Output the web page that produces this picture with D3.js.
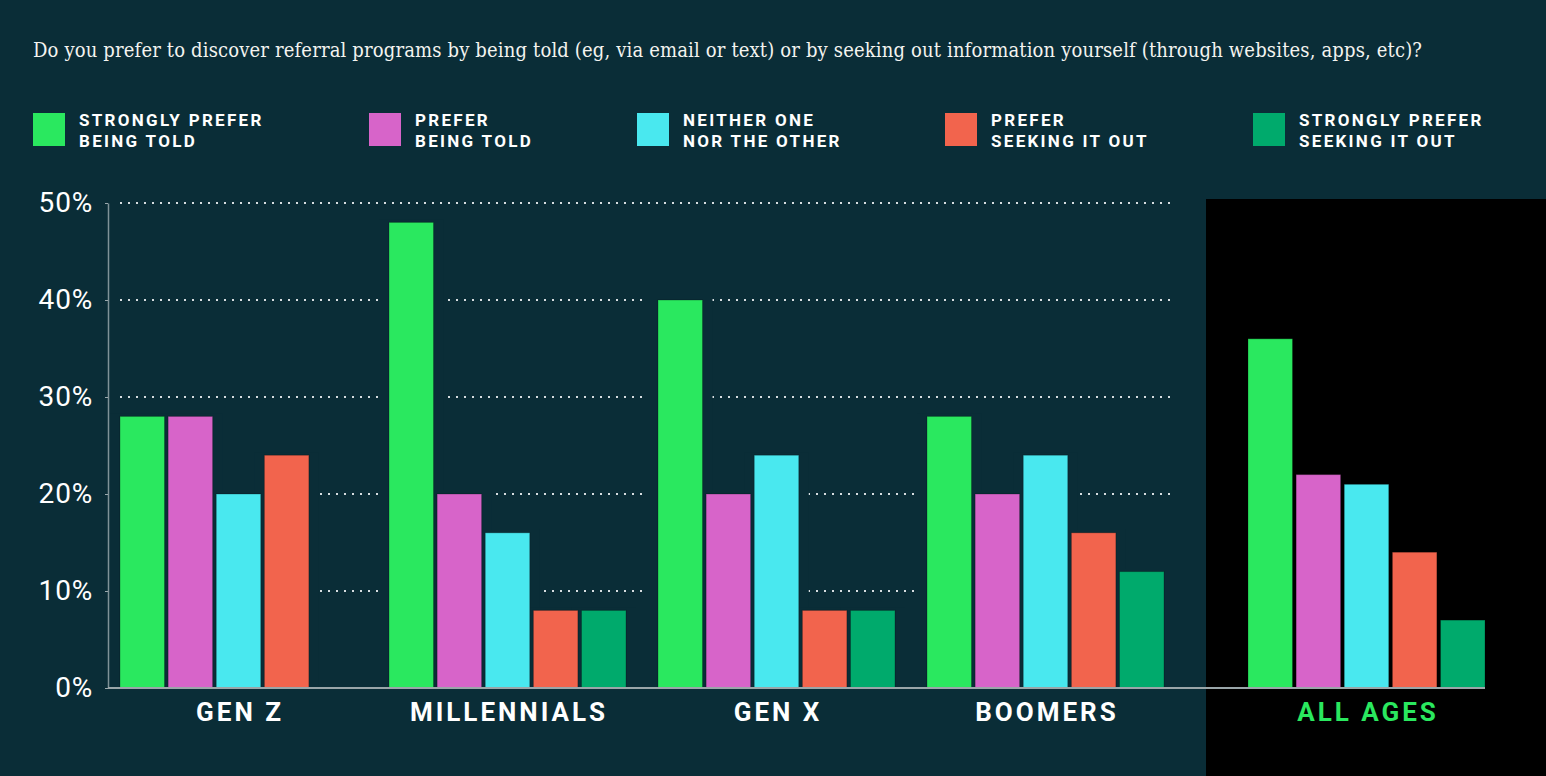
<!DOCTYPE html>
<html>
<head>
<meta charset="utf-8">
<script src="https://cdn.jsdelivr.net/npm/d3@7"></script>
<style>
  html, body { margin: 0; padding: 0; background: #0a2d37; }
  svg { display: block; }
</style>
</head>
<body>
<div id="chart"></div>
<script>
// data
const groups = ['GEN Z', 'MILLENNIALS', 'GEN X', 'BOOMERS', 'ALL AGES']
const seriesKeys = ['strongTold', 'told', 'neither', 'seek', 'strongSeek']
const legendLines = [
  ['STRONGLY PREFER', 'BEING TOLD'],
  ['PREFER', 'BEING TOLD'],
  ['NEITHER ONE', 'NOR THE OTHER'],
  ['PREFER', 'SEEKING IT OUT'],
  ['STRONGLY PREFER', 'SEEKING IT OUT']
]
const strongTold = [28, 48, 40, 28, 36]
const told = [28, 20, 20, 20, 22]
const neither = [20, 16, 24, 24, 21]
const seek = [24, 8, 8, 16, 14]
const strongSeek = [null, 8, 8, 12, 7]
const yTicks = [0, 10, 20, 30, 40, 50]
const colors = ['#2ae85f', '#d764c9', '#49e8ef', '#f2644d', '#00aa6c']
const title = 'Do you prefer to discover referral programs by being told (eg, via email or text) or by seeking out information yourself (through websites, apps, etc)?'

const seriesValues = [strongTold, told, neither, seek, strongSeek]
const rows = groups.map((g, i) => ({
  group: g,
  values: seriesKeys.map((k, j) => ({ key: k, value: seriesValues[j][i] }))
}))

const W = 1546, H = 776
const bg = '#0a2d37'
const allAgesShift = 52

const svg = d3.select('#chart').append('svg')
  .attr('width', W)
  .attr('height', H)

svg.append('rect').attr('width', W).attr('height', H).attr('fill', bg)

// black panel behind "all ages"
svg.append('rect')
  .attr('x', 1206).attr('y', 199)
  .attr('width', W - 1206).attr('height', H - 199)
  .attr('fill', '#000')

// title
svg.append('text')
  .attr('x', 33).attr('y', 57)
  .attr('fill', '#f4f4f0')
  .attr('font-family', 'DejaVu Serif, serif')
  .attr('font-stretch', 'condensed')
  .attr('font-size', 20)
  .attr('textLength', 1389)
  .attr('lengthAdjust', 'spacing')
  .text(title)

// legend
const legendX = [33, 369, 637, 945, 1253]
const legend = svg.append('g')
  .selectAll('g')
  .data(seriesKeys)
  .join('g')
  .attr('transform', (d, i) => `translate(${legendX[i]},113)`)
legend.append('rect')
  .attr('width', 32).attr('height', 33)
  .attr('fill', (d, i) => colors[i])
legend.each(function(d, i) {
  const t = d3.select(this).append('text')
    .attr('fill', '#fff')
    .attr('font-family', 'Roboto, sans-serif')
    .attr('font-weight', 700)
    .attr('font-size', 17)
    .attr('letter-spacing', 2.3)
  legendLines[i].forEach((line, k) => {
    t.append('tspan').attr('x', 46).attr('y', 13 + k * 20.5).text(line)
  })
})

// scales
const x0 = d3.scaleBand()
  .domain(groups)
  .range([120, 1433])
  .paddingInner(32 / 269)
const x1 = d3.scaleBand()
  .domain(seriesKeys)
  .range([0, x0.bandwidth()])
  .paddingInner(0.075)
const y = d3.scaleLinear().domain([0, 50]).range([688, 203])
const colour = d3.scaleOrdinal().domain(seriesKeys).range(colors)

const groupX = g => x0(g) + (g === 'ALL AGES' ? allAgesShift : 0)

// dotted gridlines, cut around the bars that cross them
const gridEnd = x0('BOOMERS') + x0.bandwidth() + 6
svg.append('g')
  .selectAll('line')
  .data(yTicks.filter(t => t > 0))
  .join('line')
  .attr('x1', 120).attr('x2', gridEnd)
  .attr('y1', d => y(d)).attr('y2', d => y(d))
  .attr('stroke', '#d6dde0')
  .attr('stroke-width', 2)
  .attr('stroke-dasharray', '2 6')

const groupsG = svg.append('g')
  .selectAll('g')
  .data(rows)
  .join('g')
  .attr('transform', d => `translate(${groupX(d.group)},0)`)

// background halos so the dots stop short of each bar
groupsG.selectAll('rect.halo')
  .data(d => d.group === 'ALL AGES' ? [] : d.values.filter(v => v.value != null))
  .join('rect')
  .attr('class', 'halo')
  .attr('x', d => x1(d.key) - 10)
  .attr('width', x1.bandwidth() + 20)
  .attr('y', d => y(d.value) - 3)
  .attr('height', d => y(0) - y(d.value) + 3)
  .attr('fill', bg)

groupsG.selectAll('rect.bar')
  .data(d => d.values.filter(v => v.value != null))
  .join('rect')
  .attr('class', 'bar')
  .attr('x', d => x1(d.key))
  .attr('width', x1.bandwidth())
  .attr('y', d => y(d.value))
  .attr('height', d => y(0) - y(d.value))
  .attr('fill', d => colour(d.key))
  .attr('stroke', 'rgba(0,0,0,0.25)')
  .attr('stroke-width', 1)

// y axis
const yAxis = svg.append('g')
  .attr('transform', 'translate(108,0)')
  .call(d3.axisLeft(y).tickValues(yTicks).tickSizeInner(3).tickSizeOuter(0).tickPadding(12).tickFormat(d => d + '%'))
yAxis.select('.domain').attr('stroke', '#7f9297').attr('stroke-width', 1.5)
yAxis.selectAll('.tick line').attr('stroke', '#9aa8ac')
yAxis.selectAll('.tick text')
  .attr('fill', '#fff')
  .attr('font-family', 'Roboto, sans-serif')
  .attr('font-size', 28)
  .attr('letter-spacing', 0.8)
  .attr('dy', null)
  .attr('y', 8)

// baseline
svg.append('line')
  .attr('x1', 108).attr('x2', groupX('ALL AGES') + x0.bandwidth())
  .attr('y1', y(0)).attr('y2', y(0))
  .attr('stroke', '#9aa6a9')
  .attr('stroke-width', 2)

// group labels
svg.append('g')
  .selectAll('text')
  .data(groups)
  .join('text')
  .attr('x', d => groupX(d) + x0.bandwidth() / 2 + 1.5)
  .attr('y', 721)
  .attr('text-anchor', 'middle')
  .attr('fill', d => d === 'ALL AGES' ? '#2ae85f' : '#fff')
  .attr('font-family', 'Roboto, sans-serif')
  .attr('font-weight', 700)
  .attr('font-size', 26)
  .attr('letter-spacing', 3)
  .text(d => d)
</script>
</body>
</html>
